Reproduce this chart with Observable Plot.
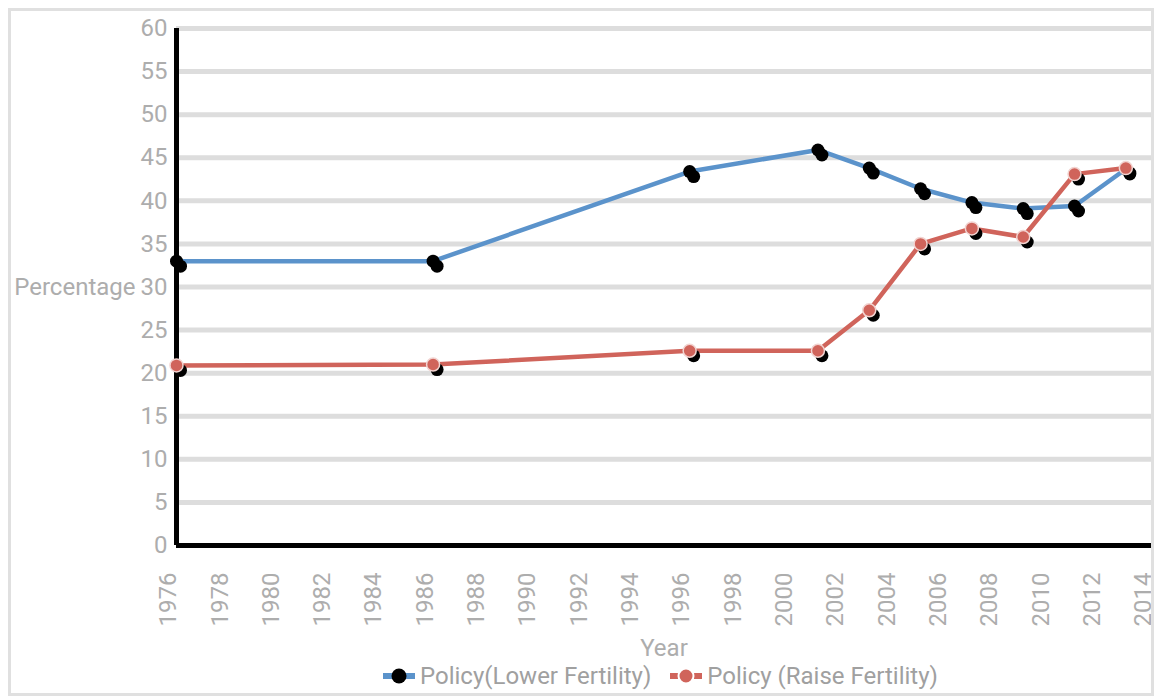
<!DOCTYPE html>
<html>
<head>
<meta charset="utf-8">
<script src="https://cdn.jsdelivr.net/npm/d3@7"></script>
<script src="https://cdn.jsdelivr.net/npm/@observablehq/plot@0.6"></script>
<style>
  html, body { margin: 0; padding: 0; background: #fff; }
  body { width: 1156px; height: 698px; position: relative; overflow: hidden; font-family: Roboto, sans-serif; }
  #frame { position: absolute; left: 8px; top: 8px; width: 1146px; height: 688px; border: 3px solid #e0e0e0; box-sizing: border-box; pointer-events: none; }
  #chart { position: absolute; left: 0; top: 0; }
  #legend { position: absolute; left: 382px; top: 662px; height: 28px; line-height: 28px; display: flex; align-items: center; gap: 18px; font-size: 24px; color: #a0a0a0; white-space: nowrap; }
  .item { display: flex; align-items: center; gap: 4px; }
</style>
</head>
<body>
<div id="chart"></div>
<div id="legend"></div>
<div id="frame"></div>
<script>
const years = [1976, 1986, 1996, 2001, 2003, 2005, 2007, 2009, 2011, 2013];
const lowerFertility = [33, 33, 43.4, 45.9, 43.8, 41.4, 39.8, 39.1, 39.4, 43.7];
const raiseFertility = [20.9, 21, 22.6, 22.6, 27.3, 35.0, 36.8, 35.8, 43.1, 43.8];
const seriesNames = ["Policy(Lower Fertility)", "Policy (Raise Fertility)"];
const yTicks = d3.range(0, 61, 5);
const xTicks = d3.range(1976, 2015, 2);

const lower = years.map((year, i) => ({year, value: lowerFertility[i]}));
const raise = years.map((year, i) => ({year, value: raiseFertility[i]}));

const blue = "#5b93cb";
const red = "#d0645b";
const labelGray = "#adadad";

const chart = Plot.plot({
  width: 1156,
  height: 660,
  marginLeft: 176,
  marginRight: 5,
  marginTop: 28,
  marginBottom: 115,
  style: {fontFamily: "Roboto, sans-serif", fontSize: "24px", background: "transparent", overflow: "visible"},
  x: {domain: [1976, 2014]},
  y: {domain: [0, 60]},
  marks: [
    Plot.ruleY(yTicks, {stroke: "#dddddd", strokeWidth: 5}),
    Plot.axisY({ticks: yTicks, tickSize: 0, tickPadding: 9, color: labelGray, label: null, fontSize: 24}),
    Plot.axisX({ticks: xTicks, tickSize: 0, tickPadding: 27, tickRotate: -90, dx: -8, tickFormat: d => String(d), color: labelGray, label: null, fontSize: 24}),
    Plot.text(["Percentage"], {y: [30], frameAnchor: "left", textAnchor: "end", dx: -41, fill: labelGray, fontSize: 24}),
    Plot.text(["Year"], {frameAnchor: "bottom", dy: 103, fill: labelGray, fontSize: 24}),
    Plot.ruleX([1976], {y1: 0, y2: 60, stroke: "black", strokeWidth: 5}),
    Plot.ruleY([0], {x1: 1976, x2: 2014, stroke: "black", strokeWidth: 5}),
    Plot.line(lower, {x: "year", y: "value", stroke: blue, strokeWidth: 4.5}),
    Plot.dot(lower, {x: "year", y: "value", r: 6.5, fill: "black", dx: 4, dy: 5}),
    Plot.dot(lower, {x: "year", y: "value", r: 6.5, fill: "black"}),
    Plot.line(raise, {x: "year", y: "value", stroke: red, strokeWidth: 4.5}),
    Plot.dot(raise, {x: "year", y: "value", r: 6.5, fill: "black", dx: 4, dy: 5}),
    Plot.dot(raise, {x: "year", y: "value", r: 6.5, fill: red, stroke: "#f2d4d1", strokeWidth: 1.5})
  ]
});
chart.style.marginTop = "0";
document.getElementById("chart").appendChild(chart);

const legend = document.getElementById("legend");
const swatch = (lineColor, dotColor, gapped) => {
  const s = d3.create("svg").attr("width", 34).attr("height", 20);
  s.append("line").attr("x1", 1).attr("x2", 33).attr("y1", 10).attr("y2", 10)
    .attr("stroke", lineColor).attr("stroke-width", 6);
  s.append("circle").attr("cx", 17).attr("cy", 10).attr("r", 7.5).attr("fill", dotColor)
    .attr("stroke", gapped ? "#fff" : "none").attr("stroke-width", 2);
  return s.node();
};
[[seriesNames[0], blue, "black", false], [seriesNames[1], red, red, true]].forEach(([name, lc, dc, gapped]) => {
  const item = document.createElement("div");
  item.className = "item";
  item.appendChild(swatch(lc, dc, gapped));
  const span = document.createElement("span");
  span.textContent = name;
  item.appendChild(span);
  legend.appendChild(item);
});
// Year label sits slightly lower than the SVG's bottom margin allows; shift it within the visible overflow
const yearText = Array.from(chart.querySelectorAll("text")).find(t => t.textContent === "Year");
if (yearText) yearText.setAttribute("transform", (yearText.getAttribute("transform") || "") + " translate(0,7)");
</script>
</body>
</html>
